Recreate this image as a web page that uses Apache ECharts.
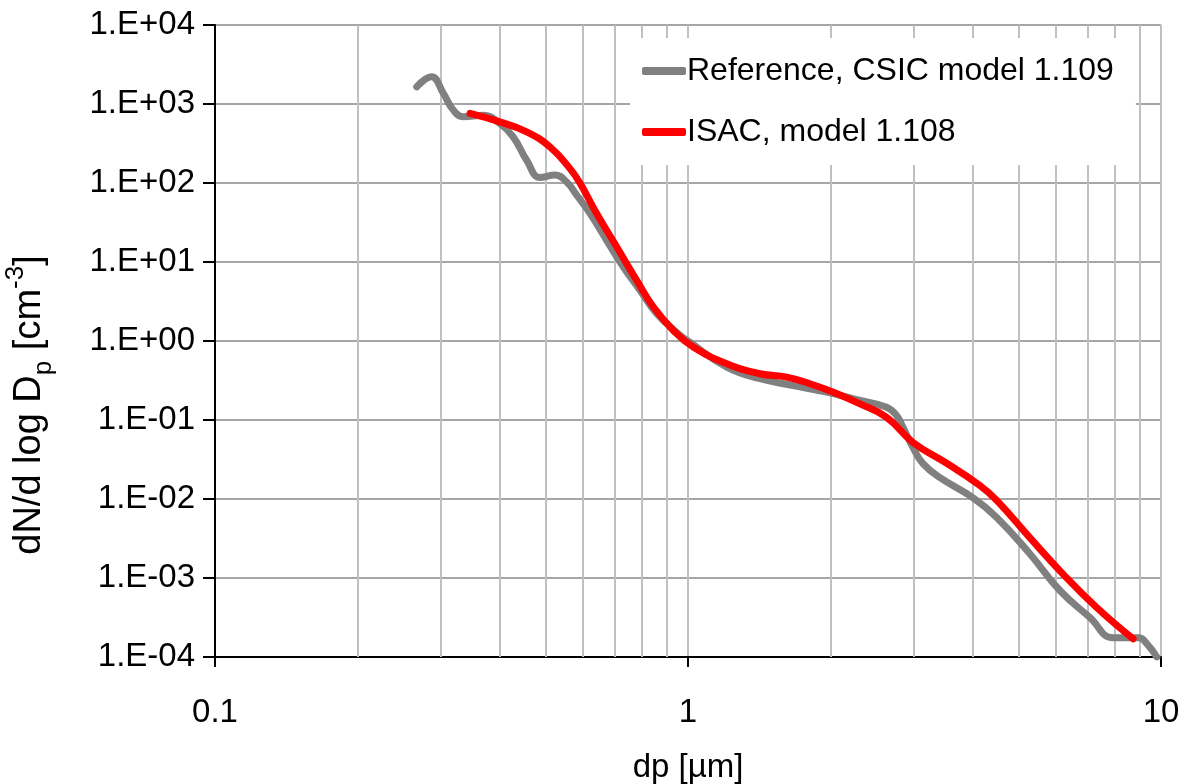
<!DOCTYPE html>
<html>
<head>
<meta charset="utf-8">
<script src="https://cdn.jsdelivr.net/npm/echarts@6/dist/echarts.min.js"></script>
<style>
  html, body { margin: 0; padding: 0; background: #fff; }
  #chart { width: 1186px; height: 784px; }
</style>
</head>
<body>
<div id="chart"></div>
<script>
// diameters [µm] and dN/dlogDp [cm-3]
var refDp = [0.267, 0.287, 0.304, 0.319, 0.335, 0.369, 0.400, 0.427, 0.456, 0.4865, 0.5235, 0.554, 0.582, 0.621, 0.673, 0.730, 0.792, 0.859, 0.962, 1.0, 1.208, 1.42, 1.67, 1.965, 2.31, 2.63, 2.76, 2.85, 2.99, 3.14, 3.41, 4.0, 4.5, 5.28, 6.12, 7.08, 7.92, 8.97, 9.34, 9.8]
var refN = [1650, 2210, 1360, 838, 690, 720, 567, 384, 194, 117, 126, 103, 70, 41, 18.8, 8.65, 4.37, 2.22, 1.18, 1.0, 0.467, 0.333, 0.273, 0.225, 0.177, 0.145, 0.114, 0.080, 0.0449, 0.028, 0.0186, 0.0104, 0.0058, 0.00203, 0.00069, 0.000315, 0.000175, 0.000175, 0.000147, 0.0001]

var isacDp = [0.346, 0.400, 0.456, 0.5106, 0.563, 0.591, 0.641, 0.707, 0.779, 0.845, 0.931, 1.026, 1.208, 1.42, 1.617, 1.81, 2.03, 2.31, 2.63, 2.99, 3.53, 4.14, 4.5, 5.28, 6.2, 7.32, 8.73]
var isacN = [760, 595, 444, 287, 152, 100, 41, 15.5, 5.86, 2.69, 1.36, 0.84, 0.515, 0.385, 0.349, 0.288, 0.225, 0.160, 0.108, 0.052, 0.0281, 0.0148, 0.00955, 0.00324, 0.00113, 0.00042, 0.00017]

var xTicks = ['0.1', '1', '10']
var minorX = [0.2, 0.3, 0.4, 0.5, 0.6, 0.7, 0.8, 0.9, 2, 3, 4, 5, 6, 7, 8, 9]

var seriesNames = ['Reference, CSIC model 1.109', 'ISAC, model 1.108']

function pairs(xs, ys) {
  return xs.map(function (x, i) { return [x, ys[i]] })
}

function sciLabel(v) {
  var e = Math.round(Math.log10(v))
  var s = e < 0 ? '-' : '+'
  var a = Math.abs(e)
  return '1.E' + s + (a < 10 ? '0' : '') + a
}

var font = 'Liberation Sans'

var chart = echarts.init(document.getElementById('chart'))
chart.setOption({
  animation: false,
  textStyle: { fontFamily: font },
  grid: { left: 215, right: 25, top: 25, bottom: 127, containLabel: false, outerBoundsMode: 'none' },
  legend: {
    orient: 'vertical',
    left: 630,
    top: 38,
    padding: [17, 22, 17, 12],
    itemGap: 29,
    itemWidth: 44,
    itemHeight: 8,
    icon: 'roundRect',
    backgroundColor: '#fff',
    textStyle: { fontSize: 32, color: '#000', fontFamily: font, padding: [0, 0, 0, -4] },
    data: seriesNames
  },
  xAxis: {
    type: 'log',
    logBase: 10,
    min: 0.1,
    max: 10,
    name: 'dp [µm]',
    nameLocation: 'middle',
    nameGap: 94,
    nameTextStyle: { fontSize: 33, color: '#000', fontFamily: font },
    axisLine: { lineStyle: { color: '#000', width: 2 } },
    axisTick: { show: true, length: 10, lineStyle: { color: '#000', width: 2 } },
    axisLabel: {
      fontSize: 33, color: '#000', margin: 39,
      formatter: function (v) {
        var e = Math.round(Math.log10(v))
        return xTicks[e + 1]
      }
    },
    splitLine: { show: true, lineStyle: { color: '#c0c0c0', width: 2 } }
  },
  yAxis: {
    type: 'log',
    logBase: 10,
    min: 1e-4,
    max: 1e4,
    interval: 1,
    axisLine: { show: true, lineStyle: { color: '#000', width: 2 } },
    axisTick: { show: true, length: 12, lineStyle: { color: '#000', width: 2 } },
    axisLabel: { fontSize: 33, color: '#000', margin: 20, formatter: sciLabel },
    splitLine: { show: true, lineStyle: { color: '#a6a6a6', width: 2 } }
  },
  graphic: [{
    type: 'text',
    x: 30,
    y: 405,
    rotation: Math.PI / 2,
    style: {
      text: '{a|dN/d log D}{s|p}{a| [cm}{u|-3}{a|]}',
      align: 'center',
      verticalAlign: 'middle',
      fill: '#000',
      rich: {
        a: { fontSize: 38, fontFamily: font, lineHeight: 54, verticalAlign: 'middle' },
        s: { fontSize: 26, fontFamily: font, lineHeight: 54, verticalAlign: 'bottom' },
        u: { fontSize: 26, fontFamily: font, lineHeight: 54, verticalAlign: 'top' }
      }
    }
  }],
  series: [{
    name: seriesNames[0],
    type: 'line',
    smooth: 0.45,
    showSymbol: false,
    color: '#808080',
    lineStyle: { width: 7, color: '#808080', cap: 'round' },
    data: pairs(refDp, refN),
    markLine: {
      silent: true,
      symbol: 'none',
      label: { show: false },
      lineStyle: { color: '#c0c0c0', width: 2, type: 'solid' },
      data: minorX.map(function (x) { return { xAxis: x } }),
      z: 1
    },
    z: 3
  }, {
    name: seriesNames[1],
    type: 'line',
    smooth: 0.45,
    showSymbol: false,
    color: '#ff0000',
    lineStyle: { width: 7, color: '#ff0000', cap: 'round' },
    data: pairs(isacDp, isacN),
    z: 4
  }]
})
</script>
</body>
</html>
